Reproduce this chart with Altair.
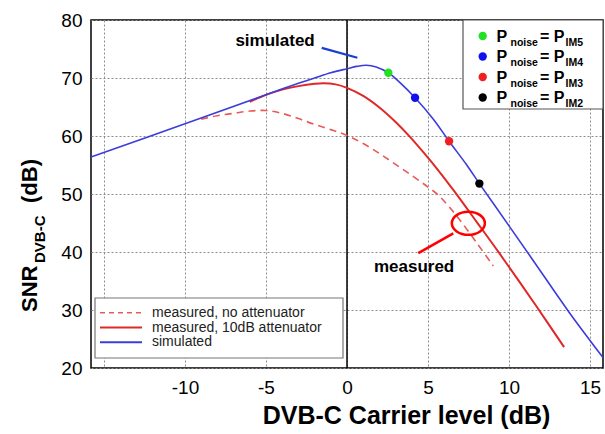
import altair as alt
import pandas as pd

# ---------------- data ----------------
sim_x = [-15.8, -10, -5, -3, -2, -1, 0, 0.6, 1.2, 1.8, 2.55, 3.27, 4.2, 5.33, 6.3, 7.39, 8.17, 9.0, 10.0, 11.5, 13.66, 15.8]
sim_y = [56.4, 62.1, 67.1, 69.1, 70.0, 70.9, 71.6, 72.0, 72.2, 71.9, 70.9, 69.2, 66.6, 62.9, 59.1, 55.0, 51.8, 48.5, 44.5, 38.5, 29.8, 21.8]

att_x = [-6.0, -5, -4, -3, -2, -1.46, -0.7, 0, 1, 2, 3, 3.9, 4.8, 5.74, 6.56, 8.0, 9.4, 11.7, 13.4]
att_y = [65.9, 67.1, 68.0, 68.6, 69.0, 69.1, 68.9, 68.3, 66.9, 64.9, 62.4, 59.8, 56.9, 53.7, 50.7, 45.2, 39.8, 30.6, 23.6]

noatt_x = [-9.0, -8, -7, -6, -5, -4, -3, -2, -1, 0, 1, 2, 3, 4.1, 5.0, 5.64, 6.3, 7.0, 8.0, 9.03]
noatt_y = [62.9, 63.5, 63.9, 64.3, 64.4, 63.9, 63.0, 62.0, 61.1, 60.1, 58.7, 57.0, 55.1, 53.0, 51.2, 49.8, 47.8, 45.4, 41.6, 37.6]

marker_x = [2.55, 4.2, 6.3, 8.17]
marker_y = [70.9, 66.6, 59.1, 51.8]
marker_sub = ["IM5", "IM4", "IM3", "IM2"]
marker_col = ["#22e022", "#1010f0", "#ee2020", "#000000"]

series_names = ["measured, no attenuator", "measured, 10dB attenuator", "simulated"]

x_ticks = [-15, -10, -5, 0, 5, 10, 15]
y_ticks = [20, 30, 40, 50, 60, 70, 80]

# annotations (data coordinates)
sim_note = {"x": -4.44, "y": 76.4, "t": "simulated"}
sim_arrow = {"x1": -1.56, "y1": 75.2, "x2": 0.64, "y2": 73.5}
meas_note = {"x": 4.14, "y": 37.4, "t": "measured"}
meas_arrow = {"x1": 4.4, "y1": 39.8, "x2": 6.56, "y2": 43.2}
ellipse_c = {"x": 7.49, "y": 44.95}

# ---------------- styling ----------------
FONT = "Liberation Sans"
BLUE = "#3c3cdc"
RED = "#e02828"
RED_D = "#e85a5a"
W, H = 512, 348
INTERP = "catmull-rom"

xs = alt.Scale(domain=[-15.8, 15.8], nice=False, zero=False)
ys = alt.Scale(domain=[20, 80], nice=False, zero=False)

xaxis = alt.Axis(values=x_ticks, labelExpr="datum.value == -15 ? '' : '' + datum.value",
                 grid=True, gridDash=[2, 2], gridColor="#8c8c8c", gridWidth=1,
                 ticks=False, domain=False, labelFlush=False,
                 labelFontSize=19, labelFont=FONT, labelColor="#000", labelPadding=10,
                 title="DVB-C Carrier level (dB)", titleFont=FONT, titleFontSize=25,
                 titleFontWeight="bold", titleColor="#000", titleX=315, titleY=55,
                 titleBaseline="alphabetic", titleAlign="center")
yaxis = alt.Axis(values=y_ticks, grid=True, gridDash=[2, 2], gridColor="#8c8c8c", gridWidth=1,
                 ticks=False, domain=False, labelFlush=False,
                 labelFontSize=19, labelFont=FONT, labelColor="#000", labelPadding=9,
                 title="")


def X(f):
    return alt.X(f, type="quantitative", scale=xs, axis=xaxis)


def Y(f):
    return alt.Y(f, type="quantitative", scale=ys, axis=yaxis)


def one():
    return pd.DataFrame({"a": [0]})


df_sim = pd.DataFrame({"x": sim_x, "y": sim_y})
df_att = pd.DataFrame({"x": att_x, "y": att_y})
df_noatt = pd.DataFrame({"x": noatt_x, "y": noatt_y})
df_mk = pd.DataFrame({"x": marker_x, "y": marker_y, "c": marker_col})

zero_line = alt.Chart(pd.DataFrame({"x": [0]})).mark_rule(color="#000", strokeWidth=1.5).encode(x=X("x"))

l_noatt = alt.Chart(df_noatt).mark_line(color=RED_D, strokeWidth=1.6, strokeDash=[7, 5],
                                        interpolate=INTERP).encode(x=X("x"), y=Y("y"))
l_att = alt.Chart(df_att).mark_line(color=RED, strokeWidth=2, interpolate=INTERP).encode(x=X("x"), y=Y("y"))
l_sim = alt.Chart(df_sim).mark_line(color=BLUE, strokeWidth=1.6, interpolate=INTERP).encode(x=X("x"), y=Y("y"))

pts = alt.Chart(df_mk).mark_point(filled=True, size=70, opacity=1).encode(
    x=X("x"), y=Y("y"), color=alt.Color("c:N", scale=None))

# annotations
ann_txt = alt.Chart(pd.DataFrame([sim_note, meas_note])).mark_text(
    font=FONT, fontSize=17, fontWeight="bold", color="#000", align="center", baseline="middle"
).encode(x=X("x"), y=Y("y"), text="t:N")

sim_ar = alt.Chart(pd.DataFrame([sim_arrow])).mark_rule(color="#1a3fd0", strokeWidth=2.2).encode(
    x=X("x1"), y=Y("y1"), x2="x2:Q", y2="y2:Q")
meas_ar = alt.Chart(pd.DataFrame([meas_arrow])).mark_rule(color="#ff0000", strokeWidth=2.5).encode(
    x=X("x1"), y=Y("y1"), x2="x2:Q", y2="y2:Q")
ellipse = alt.Chart(pd.DataFrame([ellipse_c])).mark_point(
    shape="M -1 0 A 1 0.7 0 1 1 1 0 A 1 0.7 0 1 1 -1 0 Z", size=1089, filled=False,
    stroke="#ff0000", strokeWidth=2.5, opacity=1
).encode(x=X("x"), y=Y("y"))


# ---------- y-axis title with subscript (pixel positions) ----------
def vtext(txt, px, py, size):
    return alt.Chart(one()).mark_text(
        text=txt, font=FONT, fontSize=size, fontWeight="bold", angle=270, align="left",
        baseline="alphabetic", color="#000"
    ).encode(x=alt.value(px), y=alt.value(py))


yt_snr = vtext("SNR", -54, 292, 22)
yt_sub = vtext("DVB-C", -46, 243, 15)
yt_db = vtext("(dB)", -54, 183, 22)

# ---------- bottom-left legend ----------
bl_box = alt.Chart(one()).mark_rect(fill="white", stroke="#777", strokeWidth=1.2).encode(
    x=alt.value(4), x2=alt.value(252), y=alt.value(278), y2=alt.value(338))
rows_bl = [292.7, 307.5, 322.3]
bl_l1 = alt.Chart(one()).mark_rule(color=RED_D, strokeWidth=1.6, strokeDash=[5, 4]).encode(
    x=alt.value(9), x2=alt.value(51), y=alt.value(rows_bl[0]))
bl_l2 = alt.Chart(one()).mark_rule(color=RED, strokeWidth=2).encode(
    x=alt.value(9), x2=alt.value(51), y=alt.value(rows_bl[1]))
bl_l3 = alt.Chart(one()).mark_rule(color=BLUE, strokeWidth=2).encode(
    x=alt.value(9), x2=alt.value(51), y=alt.value(rows_bl[2]))
bl_txt = alt.Chart(pd.DataFrame({"px": [61] * 3, "py": rows_bl, "t": series_names})).mark_text(
    font=FONT, fontSize=14, color="#222", align="left", baseline="middle"
).encode(x=alt.X("px:Q", scale=None, axis=None), y=alt.Y("py:Q", scale=None, axis=None), text="t:N")

# ---------- top-right legend ----------
rows_tr = [16, 36.5, 57, 77.5]
tr_box = alt.Chart(one()).mark_rect(fill="white", stroke="#555", strokeWidth=1.2).encode(
    x=alt.value(372), x2=alt.value(512), y=alt.value(0), y2=alt.value(89))
tr_dots = alt.Chart(pd.DataFrame({"px": [391.7] * 4, "py": rows_tr, "c": marker_col})).mark_point(
    filled=True, size=70, opacity=1
).encode(x=alt.X("px:Q", scale=None, axis=None), y=alt.Y("py:Q", scale=None, axis=None),
         color=alt.Color("c:N", scale=None))
big_rows = []
small_rows = []
for r, sub in zip(rows_tr, marker_sub):
    big_rows.append({"px": 405.5, "py": r + 5.5, "t": "P"})
    big_rows.append({"px": 449, "py": r + 5.5, "t": "= P"})
    small_rows.append({"px": 419.5, "py": r + 9.5, "t": "noise"})
    small_rows.append({"px": 474.5, "py": r + 9.5, "t": sub})
tr_big = alt.Chart(pd.DataFrame(big_rows)).mark_text(
    font=FONT, fontSize=16, fontWeight="bold", color="#000", align="left", baseline="alphabetic"
).encode(x=alt.X("px:Q", scale=None, axis=None), y=alt.Y("py:Q", scale=None, axis=None), text="t:N")
tr_small = alt.Chart(pd.DataFrame(small_rows)).mark_text(
    font=FONT, fontSize=10.5, fontWeight="bold", color="#000", align="left", baseline="alphabetic"
).encode(x=alt.X("px:Q", scale=None, axis=None), y=alt.Y("py:Q", scale=None, axis=None), text="t:N")

chart = alt.layer(
    zero_line, l_noatt, l_att, l_sim, pts, sim_ar, meas_ar, ellipse, ann_txt,
    bl_box, bl_l1, bl_l2, bl_l3, bl_txt,
    tr_box, tr_dots, tr_big, tr_small,
    yt_snr, yt_sub, yt_db
).properties(
    width=W, height=H,
    autosize=alt.AutoSizeParams(type="none"),
    padding={"left": 91, "top": 20, "right": 2, "bottom": 66},
    background="white"
).configure_view(stroke="#000", strokeWidth=1.5)

chart.save("out.html", embed_options={"renderer": "svg", "actions": False})
